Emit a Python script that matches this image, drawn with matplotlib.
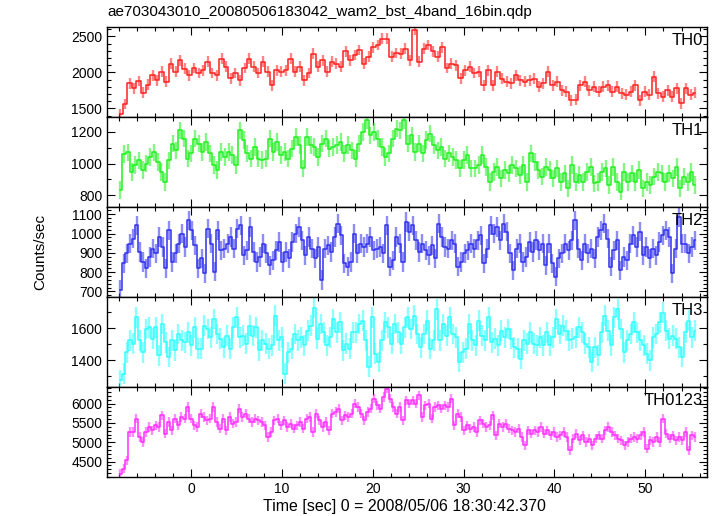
import numpy as np
import matplotlib
matplotlib.use('Agg')
import matplotlib.pyplot as plt
from matplotlib.ticker import MultipleLocator

plt.rcParams['font.family'] = ['Liberation Sans', 'DejaVu Sans']

# light curve data (counts/sec)
t_start = -7.8
t_end = 55.5

th0 = [1420, 1560, 1850, 1780, 1880, 1720, 1830, 1960, 1890, 2010, 1870, 2120, 2010, 2170, 2050, 1960,
       2060, 1990, 2030, 2150, 1990, 1960, 2190, 2080, 1920, 1990, 1890, 2060, 2190, 2080, 1990, 2150,
       2010, 1820, 2030, 2010, 2030, 2190, 2010, 2080, 1890, 1990, 2260, 2080, 2170, 2010, 2150, 2120,
       2080, 2290, 2170, 2240, 2310, 2120, 2220, 2350, 2380, 2470, 2470, 2220, 2270, 2260, 2330, 2170,
       2590, 2150, 2330, 2380, 2290, 2220, 2350, 2060, 2120, 2100, 1920, 2030, 2080, 1990, 2010, 1820,
       2030, 1820, 2010, 1910, 1870, 1850, 1960, 1890, 1870, 1890, 1910, 1800, 1850, 2010, 1820, 1870,
       1750, 1730, 1610, 1620, 1820, 1870, 1750, 1800, 1730, 1800, 1820, 1730, 1800, 1710, 1690, 1730,
       1820, 1610, 1730, 1690, 1940, 1710, 1660, 1750, 1660, 1780, 1570, 1780, 1690, 1720]

th1 = [833, 1060, 1070, 948, 990, 1020, 958, 1000, 1040, 1070, 1010, 948, 885, 1020, 1125, 1083,
       1208, 1156, 1031, 1063, 1156, 1125, 1073, 1135, 1063, 990, 958, 1073, 1042, 1073, 1052, 990,
       1208, 1146, 1063, 1031, 1104, 1031, 1021, 1031, 1156, 1073, 1135, 1052, 1073, 1031, 1094, 1167,
       1115, 969, 1167, 1115, 1104, 1042, 1125, 1156, 1094, 1104, 1115, 1135, 1063, 1115, 1083, 1031,
       1125, 1198, 1271, 1177, 1198, 1156, 1104, 1042, 1063, 1156, 1219, 1208,
       1271, 1125, 1177, 1073, 1125, 1063, 1146, 1188, 1115, 1083, 1104, 1031, 1063, 1042, 1021, 969,
       1021, 1052, 969, 969, 990, 1052, 979, 885, 948, 979, 906, 958, 938, 990, 969, 927, 990, 885,
       1063, 1010, 958, 917, 979, 958, 906, 969, 885, 938, 844, 990, 885, 927, 885, 948, 979, 875,
       885, 948, 969, 865, 979, 885, 823, 948, 885, 938, 885, 958, 844, 885, 865, 917, 948, 938, 885,
       938, 906, 979, 844, 917, 885, 948, 865]

th2 = [707, 845, 897, 948, 974, 1043, 905, 853, 819, 879, 922, 897, 983, 931, 819, 1017, 853, 897,
       948, 1000, 931, 1069, 1017, 940, 819, 871, 793, 1026, 948, 802, 1017, 914, 922, 948, 983, 922,
       1026, 1043, 888, 914, 1034, 905, 853, 879, 948, 897, 836, 862, 914, 957, 853, 905, 871, 957,
       1000, 1034, 966, 888, 983, 922, 871, 931, 759, 922, 940, 905, 983, 1052, 991, 845, 828, 853,
       1000, 897, 948, 931, 948, 983, 914, 922, 931, 897, 1043, 828, 862, 983, 948, 853, 1060,
       1009, 1043, 966, 905, 948, 914, 888, 940, 871, 1052, 983, 931, 922, 966, 948, 828, 853, 897,
       914, 948, 922, 966, 991, 845, 922, 1043, 1000, 1034, 966, 1052, 1009, 897, 810, 922, 948, 853,
       879, 957, 905, 966, 914, 948, 836, 948, 845, 776, 871, 897, 948, 914, 966, 1069, 922, 862, 948,
       897, 922, 871, 983, 1017, 1052, 974, 828, 914, 966, 810, 879, 862, 948, 991, 931, 1009, 888,
       931, 871, 922, 888, 957, 991, 1017, 983, 793, 922, 1086, 948, 948, 897, 931, 966]

th3 = [1275, 1316, 1450, 1523, 1502, 1667, 1523, 1450, 1595, 1605, 1533, 1605, 1430, 1626, 1512,
       1420, 1523, 1461, 1564, 1523, 1512, 1574, 1492, 1605, 1471, 1471, 1615, 1595, 1543, 1657, 1564,
       1533, 1481, 1554, 1471, 1605, 1667, 1543, 1554, 1502, 1615, 1554, 1605, 1461, 1523, 1502, 1471,
       1492, 1677, 1523, 1543, 1316, 1450, 1471, 1564, 1523, 1543, 1492, 1585, 1615, 1729, 1533, 1626,
       1574, 1492, 1543, 1657, 1574, 1636, 1461, 1502, 1471, 1574, 1574, 1626, 1646, 1523, 1358, 1667,
       1440, 1389, 1523, 1636, 1605, 1502, 1626, 1574, 1502, 1605, 1667,
       1595, 1677, 1564, 1481, 1564, 1646, 1471, 1523, 1718, 1523, 1626, 1554, 1667, 1564, 1543, 1389,
       1450, 1471, 1626, 1523, 1492, 1646, 1554, 1523, 1667, 1512, 1533, 1492, 1585, 1543, 1595, 1533,
       1481, 1471, 1409, 1523, 1502, 1574, 1502, 1492, 1543, 1492, 1574, 1492, 1543, 1657, 1564, 1615,
       1585, 1523, 1533, 1543, 1605, 1574, 1502, 1481, 1389, 1481, 1430, 1574, 1677, 1585, 1492, 1667,
       1718, 1595, 1450, 1523, 1564, 1636, 1574, 1523, 1492, 1440, 1399, 1543, 1564, 1636, 1698, 1585,
       1533, 1554, 1533, 1481, 1420, 1574, 1646, 1543, 1585]

th0123 = [4190, 4320, 4534, 5267, 5267, 5612, 5138, 5009, 5267, 5397, 5310, 5440, 5397, 5698, 5224,
          5526, 5310, 5612, 5440, 5655, 5612, 5914, 5612, 5440, 5397, 5741, 5655, 5569, 5612, 5914,
          5526, 5353, 5612, 5310, 5655, 5483, 5526, 5871, 5655, 5741, 5612, 5526, 5612, 5569, 5526,
          5440, 5138, 5267, 5569, 5612, 5440, 5569, 5397, 5483, 5353, 5440, 5526, 5353, 5612, 5655,
          5267, 5741, 5569, 5397, 5526, 5310, 5741, 5784, 5871, 5569, 5698, 5655, 5741, 6000, 5914,
          5741, 5569, 5784, 5871, 6129, 5957, 5871, 6172, 6388, 6129, 5914, 5741, 5914, 5569, 6086, 6000,
          6086, 6000, 6216, 5655, 5957, 6000, 5612, 5914, 5957, 5871, 5957, 5914, 6129, 5440, 5741,
          5655, 5310, 5440, 5353, 5397, 5267, 5569, 5483, 5397, 5440, 5698, 5181, 5483, 5397, 5483,
          5353, 5310, 5267, 5353, 5138, 4922, 5310, 5224, 5310, 5267, 5397, 5224, 5310, 5181, 5267,
          5138, 5181, 5267, 5138, 4793, 5095, 5224, 5052, 5181, 5009, 5095, 4922, 5095, 5181, 5095,
          5310, 5397, 5267, 5181, 5095, 5052, 4922, 5009, 5095, 5138, 5095, 5181, 5267, 4836, 5052,
          5009, 5138, 5009, 5612, 5224, 5095, 5181, 5052, 5138, 5052, 5267, 4793, 5181, 5138]

names = ['TH0', 'TH1', 'TH2', 'TH3', 'TH0123']
series = [th0, th1, th2, th3, th0123]
errors = [75, 55, 50, 65, 120]
colors = ['#ff2020', '#20f020', '#3030ee', '#30ffff', '#ff30ff']
ylims = [(1380, 2630), (727, 1292), (671, 1138), (1232, 1795), (4100, 6430)]
ymajor = [500, 200, 100, 200, 500]
yminor = [100, 100, 20, 100, 100]

fig = plt.figure(figsize=(7.17, 5.16), dpi=100)
left, right = 107 / 717, 707 / 717
top, bottom = 1 - 27 / 516, 1 - 477 / 516
h = (top - bottom) / 5

for i in range(5):
    ax = fig.add_axes([left, top - (i + 1) * h, right - left, h])
    v = np.array(series[i], dtype=float)
    t = np.linspace(t_start, t_end, len(v))
    ax.errorbar(t, v, yerr=errors[i], fmt='none', ecolor=colors[i], elinewidth=1.7, alpha=0.55)
    ax.step(t, v, where='mid', color=colors[i], lw=1.1)
    ax.set_xlim(-9.27, 56.8)
    ax.set_ylim(*ylims[i])
    ax.xaxis.set_major_locator(MultipleLocator(10))
    ax.xaxis.set_minor_locator(MultipleLocator(2))
    ax.yaxis.set_major_locator(MultipleLocator(ymajor[i]))
    ax.yaxis.set_minor_locator(MultipleLocator(yminor[i]))
    ax.tick_params(which='both', direction='in', top=True, right=True, labelsize=10)
    ax.tick_params(which='major', length=6, width=0.8)
    ax.tick_params(which='minor', length=3, width=0.8)
    for s in ax.spines.values():
        s.set_linewidth(1.0)
    if i < 4:
        ax.tick_params(labelbottom=False)
    ax.text(0.993, 0.93, names[i], transform=ax.transAxes, ha='right', va='top', fontsize=12)

fig.text(left, 1 - 12 / 516, 'ae703043010_20080506183042_wam2_bst_4band_16bin.qdp',
         ha='left', va='center', fontsize=11)
fig.text(40 / 717, 1 - 252 / 516, 'Counts/sec', rotation=90, ha='center', va='center', fontsize=11)
fig.text(404 / 717, 1 - 506 / 516, 'Time [sec] 0 = 2008/05/06 18:30:42.370',
         ha='center', va='center', fontsize=11.5)

plt.savefig('out.png', dpi=100)
